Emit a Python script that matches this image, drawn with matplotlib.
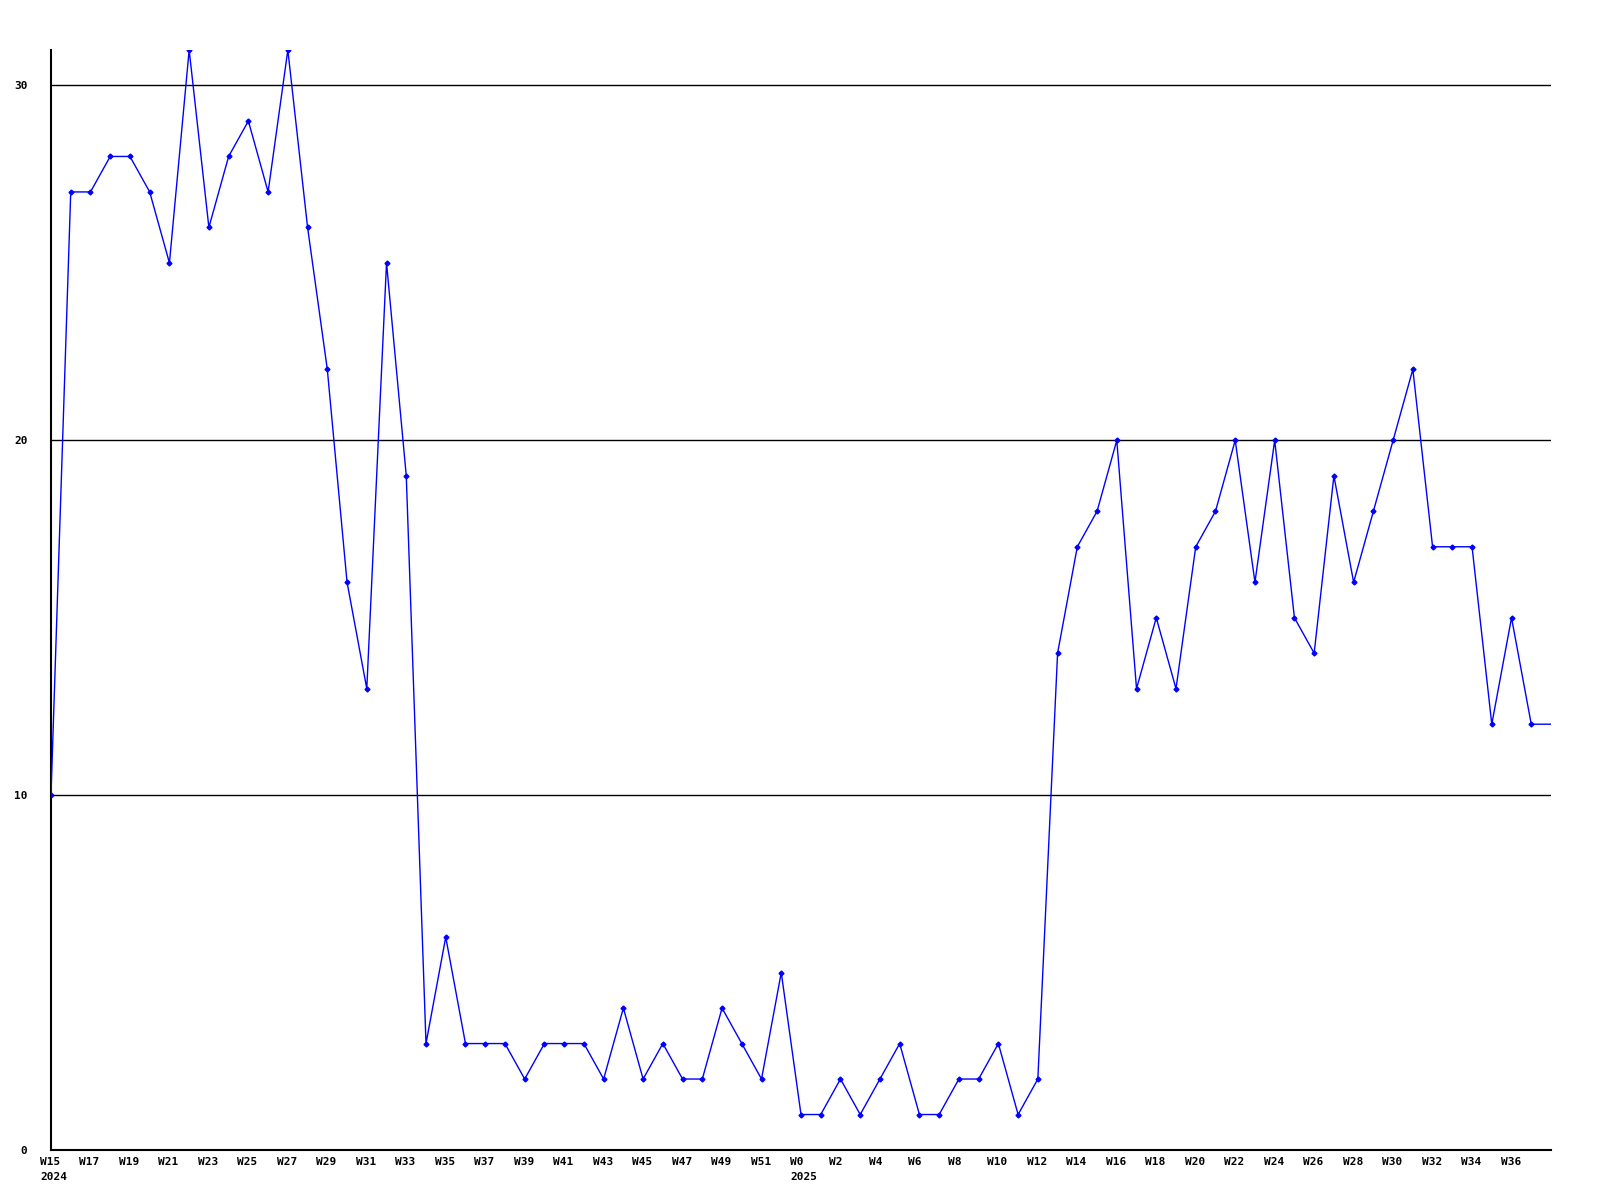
import matplotlib
matplotlib.use("Agg")
import matplotlib.pyplot as plt
from matplotlib.transforms import ScaledTranslation

# weekly counts, W15 2024 .. W38 2025
weeks_2024 = list(range(15, 53))
weeks_2025 = list(range(0, 39))
values_2024 = [10, 27, 27, 28, 28, 27, 25, 31, 26, 28, 29, 27, 31, 26, 22, 16, 13, 25, 19,
               3, 6, 3, 3, 3, 2, 3, 3, 3, 2, 4, 2, 3, 2, 2, 4, 3, 2, 5]
values_2025 = [1, 1, 2, 1, 2, 3, 1, 1, 2, 2, 3, 1, 2,
               14, 17, 18, 20, 13, 15, 13, 17, 18, 20, 16, 20, 15, 14, 19, 16, 18, 20, 22,
               17, 17, 17, 12, 15, 12, 12]
yticks = [0, 10, 20, 30]

labels = ["W%d" % w for w in weeks_2024] + ["W%d" % w for w in weeks_2025]
values = values_2024 + values_2025
years = {0: "2024", len(weeks_2024): "2025"}
x = list(range(len(values)))

fig = plt.figure(figsize=(16, 12), dpi=100)
ax = fig.add_axes([51/1600, 1 - 1150/1200, 1500/1600, 1100/1200])

for v in yticks[1:]:
    ax.axhline(v, color="black", lw=1, zorder=1)

ax.plot(x, values, color="#0000ff", lw=1, marker="D", markersize=2.5,
        markevery=list(range(len(values) - 1)), zorder=3)

ax.set_xlim(0, len(values) - 1)
ax.set_ylim(0, max(values))

tick_pos = list(range(0, len(values) - 1, 2))
tick_lab = [labels[i] + ("\n" + years[i] if i in years else "") for i in tick_pos]
ax.set_xticks(tick_pos, tick_lab)
ax.set_yticks(yticks)
ax.tick_params(axis="both", length=0, labelsize=8)
ax.tick_params(axis="x", pad=5)
ax.tick_params(axis="y", pad=17)

shift = ScaledTranslation(-11/100, 0, fig.dpi_scale_trans)
for lab in ax.get_xticklabels():
    lab.set_horizontalalignment("left")
    lab.set_verticalalignment("top")
    lab.set_multialignment("left")
    lab.set_linespacing(1.6)
    lab.set_transform(lab.get_transform() + shift)
for lab in ax.get_xticklabels() + ax.get_yticklabels():
    lab.set_family("DejaVu Sans Mono")
    lab.set_fontweight("bold")

for s in ["top", "right"]:
    ax.spines[s].set_visible(False)
for s in ["left", "bottom"]:
    ax.spines[s].set_color("black")
    ax.spines[s].set_linewidth(1.5)

fig.savefig("out.png", dpi=100, facecolor="white")
